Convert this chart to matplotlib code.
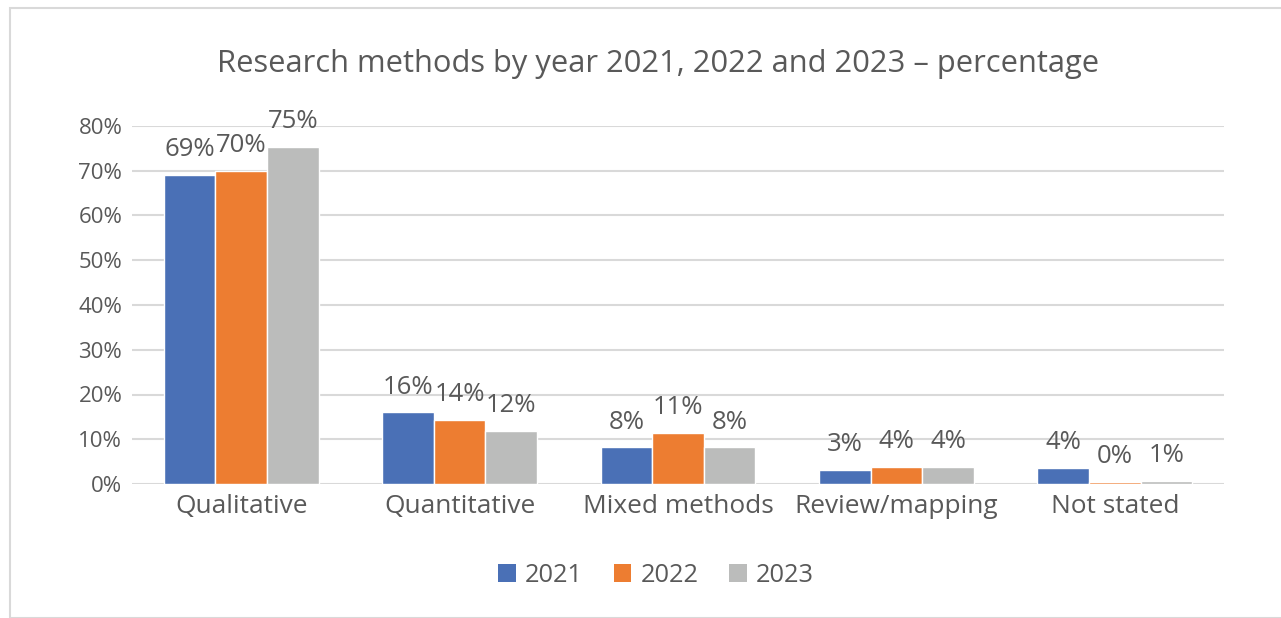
import matplotlib
matplotlib.use('Agg')
import matplotlib.pyplot as plt
import numpy as np
from matplotlib.patches import Rectangle, Patch

# research methods share per year (%)
categories = ['Qualitative', 'Quantitative', 'Mixed methods', 'Review/mapping', 'Not stated']
years = ['2021', '2022', '2023']
pct_2021 = [69.0, 16.0, 8.2, 3.1, 3.6]
pct_2022 = [70.0, 14.4, 11.4, 3.8, 0.45]
pct_2023 = [75.4, 11.8, 8.2, 3.9, 0.75]
yticks = [0, 10, 20, 30, 40, 50, 60, 70, 80]

colors = ['#4a70b6', '#ed7d31', '#bbbcbb']
text_col = '#595959'
grid_col = '#d9d9d9'

plt.rcParams['font.family'] = ['Open Sans', 'DejaVu Sans']

W, H = 1281, 618
fig = plt.figure(figsize=(W / 100, H / 100), dpi=100)

# chart frame
fig.patches.append(Rectangle((10 / W, 0), 1.2, 1 - 8 / H, transform=fig.transFigure,
                             fill=False, edgecolor=grid_col, linewidth=1.5))

ax = fig.add_axes([132 / W, (H - 484) / H, (1224 - 132) / W, (484 - 126) / H])

x = np.arange(len(categories))
width = 0.236
series = [pct_2021, pct_2022, pct_2023]
for i, vals in enumerate(series):
    pos = x + (i - 1) * width
    ax.bar(pos, vals, width, color=colors[i], edgecolor='white', linewidth=1,
           zorder=3, label=years[i])
    for xp, v in zip(pos, vals):
        ax.annotate('{:.0f}%'.format(v), (xp, v), xytext=(0, 13.5),
                    textcoords='offset points', ha='center', va='baseline',
                    fontsize=18.5, color=text_col, annotation_clip=False)

ax.set_xlim(-0.5, len(categories) - 0.5)
ax.set_ylim(0, 80)
ax.set_yticks(yticks)
ax.set_yticklabels(['{}%'.format(t) for t in yticks])
ax.set_xticks(x)
ax.set_xticklabels(categories)
ax.tick_params(axis='both', length=0, labelcolor=text_col)
ax.tick_params(axis='x', pad=7, labelsize=18.9)
ax.tick_params(axis='y', pad=7, labelsize=16)
ax.grid(axis='y', color=grid_col, linewidth=1.5, zorder=0)
for s in ax.spines.values():
    s.set_visible(False)

fig.text(658 / W, 1 - 64 / H, 'Research methods by year 2021, 2022 and 2023 \u2013 percentage',
         ha='center', va='center', fontsize=22.2, color=text_col)

handles = [Patch(facecolor=c, edgecolor='none') for c in colors]
fig.legend(handles, years, loc='center', bbox_to_anchor=(656 / W, 1 - 575 / H),
           ncol=3, frameon=False, fontsize=18.3, labelcolor=text_col,
           handlelength=0.7, handleheight=0.7, handletextpad=0.35,
           columnspacing=1.2)

fig.savefig('out.png', dpi=100)
